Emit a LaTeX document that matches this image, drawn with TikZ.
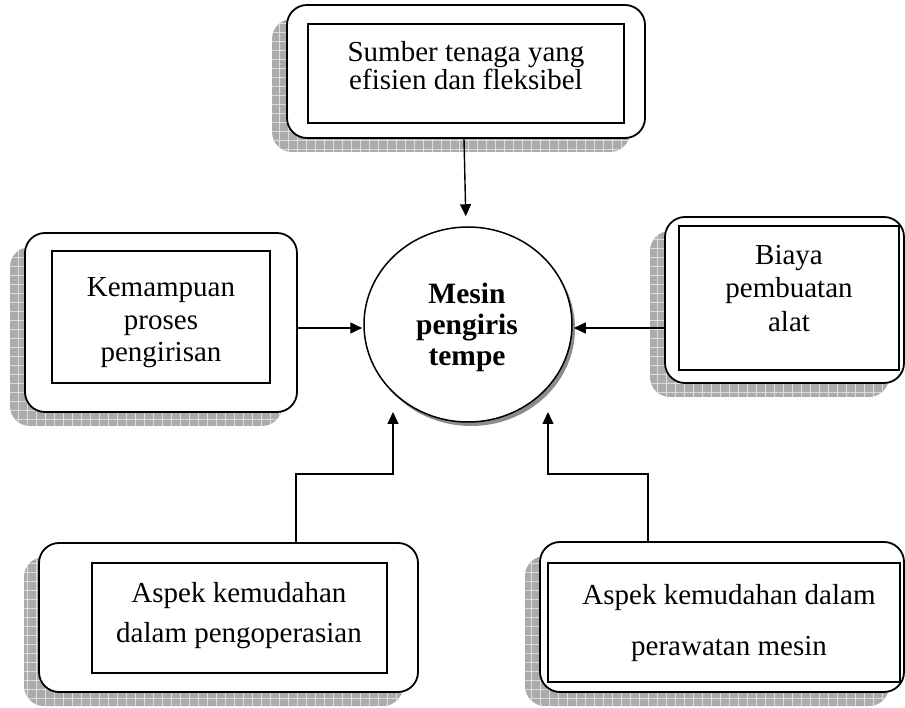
\documentclass[tikz,border=0pt]{standalone}
\usepackage{fontspec}
\setmainfont{Liberation Serif}
\usetikzlibrary{arrows.meta,shapes.geometric,shadows,patterns.meta}
\begin{document}
\begin{tikzpicture}[x=1pt,y=-1pt,
  gridshadow/.style={
    general shadow={shadow xshift=-15pt, shadow yshift=-14pt, fill=black!33},
    general shadow={shadow xshift=-15pt, shadow yshift=-14pt,
      pattern={Hatch[distance=9pt,line width=1pt]}, pattern color=black!13}},
  outerbox/.style={rectangle, rounded corners=20pt, draw, line width=1.8pt,
    fill=white, inner sep=0pt, gridshadow},
  innerbox/.style={rectangle, draw, line width=1.5pt, fill=white, inner sep=0pt},
  txt/.style={align=center, inner sep=0pt},
  arr/.style={line width=1.4pt, -{Triangle[length=12pt,width=11pt]}}
]
\useasboundingbox (0,0) rectangle (905,708);

% top box
\node[outerbox, minimum width=358pt, minimum height=133pt] (topO) at (466,71.5) {};
\node[innerbox, minimum width=316pt, minimum height=99pt] (topI) at (466,73.5) {};
\node[txt, font=\fontsize{29}{25}\selectfont] (topT) at (466,65.6) {Sumber tenaga yang\\efisien dan fleksibel};

% left box
\node[outerbox, minimum width=272pt, minimum height=179pt] (leftO) at (161,322.5) {};
\node[innerbox, minimum width=218pt, minimum height=132pt] (leftI) at (161,317) {};
\node[txt, font=\fontsize{29}{32.5}\selectfont] (leftT) at (161,323) {Kemampuan\\proses\\pengirisan};

% right box
\node[outerbox, minimum width=239pt, minimum height=166pt] (rightO) at (784.5,300) {};
\node[innerbox, minimum width=220pt, minimum height=144pt] (rightI) at (789,298) {};
\node[txt, font=\fontsize{29}{33.5}\selectfont] (rightT) at (789,288.5) {Biaya\\pembuatan\\alat};

% bottom-left box
\node[outerbox, minimum width=379pt, minimum height=149pt] (blO) at (228.5,617.5) {};
\node[innerbox, minimum width=295pt, minimum height=110pt] (blI) at (239.5,618) {};
\node[txt, font=\fontsize{29}{40}\selectfont] (blT) at (239,616) {Aspek kemudahan\\dalam pengoperasian};

% bottom-right box
\node[outerbox, minimum width=364pt, minimum height=150pt] (brO) at (722,617) {};
\node[innerbox, minimum width=352pt, minimum height=119pt] (brI) at (724,622.5) {};
\node[txt, font=\fontsize{29}{51}\selectfont] (brT) at (729,623.5) {Aspek kemudahan dalam\\perawatan mesin};

% central ellipse
\node[ellipse, draw, line width=1.5pt, fill=white, inner sep=0pt,
  minimum width=208pt, minimum height=195pt,
  general shadow={shadow xshift=3pt, shadow yshift=-4pt, fill=black!45}] (circ) at (468,324.5) {};
\node[txt, font=\fontsize{29.5}{31}\selectfont\bfseries] (circT) at (467,327.5) {Mesin\\pengiris\\tempe};

% connectors
\coordinate (blEnd) at (393,412);
\coordinate (brEnd) at (548,412);
\draw[arr, shorten >=10pt] ([xshift=-2pt]topO.south) -- ([xshift=-2pt]circ.north);
\draw[arr, shorten >=1pt] ([yshift=-5.5pt]leftO.east) -- ([yshift=-3.5pt]circ.west);
\draw[arr, shorten >=1pt] ([yshift=-28pt]rightO.west) -- ([yshift=-3.5pt]circ.east);
\draw[arr] ([xshift=67.5pt]blO.north) -- ++(0,-68) -| (blEnd);
\draw[arr] ([xshift=-74pt]brO.north) -- ++(0,-67) -| (brEnd);
\end{tikzpicture}
\end{document}
